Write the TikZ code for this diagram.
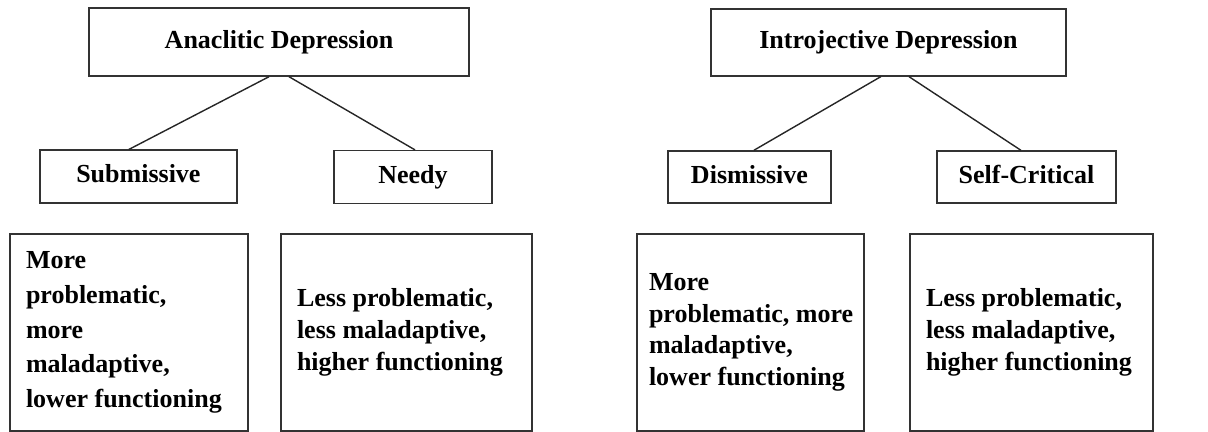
\documentclass[tikz,border=0pt]{standalone}
\usepackage{fontspec}
\setmainfont{Liberation Serif}
\usepackage{tikz}
\usetikzlibrary{positioning,calc}
\newcommand{\diagfont}{\fontsize{18.5}{22.5}\selectfont\bfseries}

\begin{document}
\begin{tikzpicture}[
    headbox/.style={draw=black!80, line width=1pt, minimum height=1.7cm, text height=0.46cm, text depth=0.14cm, align=center, font=\diagfont},
    typebox/.style={draw=black!80, line width=1pt, minimum height=1.32cm, text height=0.46cm, text depth=0.14cm, align=center, font=\diagfont},
    descbox/.style={draw=black!80, line width=1pt, minimum height=4.925cm, inner xsep=0.4cm, align=flush left, font=\diagfont},
    link/.style={draw=black!85, line width=1pt}
  ]
  \useasboundingbox (0,0) rectangle (30.2,10.8);

  % Left tree: Anaclitic
  \node[headbox, minimum width=9.5cm] (ana) at (6.975,9.75) {Anaclitic Depression};
  \node[typebox, minimum width=4.925cm] (sub) at (3.46,6.385) {Submissive};
  \node[typebox, minimum width=3.95cm] (needy) at (10.325,6.375) {Needy};
  \node[descbox, text width=5.15cm, font=\fontsize{18.5}{24.8}\selectfont\bfseries] (subdesc) at (3.225,2.49) {More\\problematic,\\more\\maladaptive,\\lower functioning};
  \node[descbox, text width=5.475cm] (needydesc) at (10.1625,2.49) {Less problematic,\\less maladaptive,\\higher functioning};

  % Right tree: Introjective
  \node[headbox, minimum width=8.875cm, minimum height=1.675cm] (intro) at (22.2125,9.74) {Introjective Depression};
  \node[typebox, minimum width=4.075cm, minimum height=1.3cm] (dis) at (18.7375,6.375) {Dismissive};
  \node[typebox, minimum width=4.475cm, minimum height=1.3cm] (self) at (25.6625,6.375) {Self-Critical};
  \node[descbox, text width=5.075cm, inner xsep=0.3cm] (disdesc) at (18.7625,2.49) {More\\\mbox{problematic, more}\\maladaptive,\\lower functioning\\[0.6cm]};
  \node[descbox, text width=5.275cm] (selfdesc) at (25.7875,2.49) {Less problematic,\\less maladaptive,\\higher functioning};

  % Lines from heads to types
  \draw[link] ($(ana.south)+(-0.25,0)$) -- ($(sub.north)+(-0.24,0)$);
  \draw[link] ($(ana.south)+(0.25,0)$) -- ($(needy.north)+(0.05,0)$);
  \draw[link] ($(intro.south)+(-0.19,0)$) -- ($(dis.north)+(0.11,0)$);
  \draw[link] ($(intro.south)+(0.51,0)$) -- ($(self.north)+(-0.14,0)$);
\end{tikzpicture}
\end{document}
